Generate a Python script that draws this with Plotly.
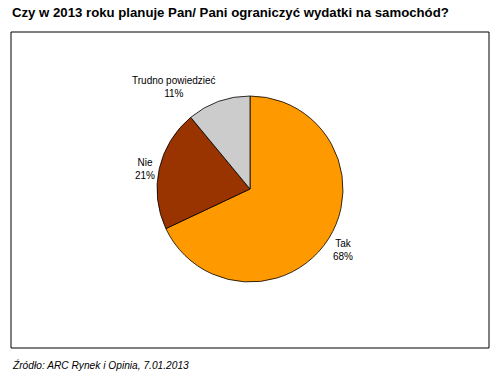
import math
import plotly.graph_objects as go

categories = ["Tak", "Nie", "Trudno powiedzieć"]
values = [68, 21, 11]
colors = ["#FF9900", "#993300", "#CCCCCC"]
title_text = "Czy w 2013 roku planuje Pan/ Pani ograniczyć wydatki na samochód?"
source_text = "Źródło: ARC Rynek i Opinia, 7.01.2013"

W, H = 497, 378
cx, cy, R = 250, 189, 93

fig = go.Figure(go.Pie(
    labels=categories, values=values, sort=False, direction="clockwise",
    rotation=0, marker=dict(colors=colors, line=dict(color="#000000", width=0.8)),
    textinfo="none", hoverinfo="label+percent", showlegend=False,
    domain=dict(x=[(cx - R) / W, (cx + R) / W], y=[1 - (cy + R) / H, 1 - (cy - R) / H]),
))

# outside labels positioned from the data's slice mid-angles
total = sum(values)
cum = 0
annotations = []
for cat, v in zip(categories, values):
    mid = (cum + v / 2) / total * 2 * math.pi
    cum += v
    s, c = math.sin(mid), math.cos(mid)
    px = cx + 1.03 * R * s
    py = cy - 1.0 * R * c - (3 if c < 0 else 0)
    xa = "left" if s > 0 else "right"
    if abs(c) < 0.3:
        ya = "middle"
    else:
        ya = "top" if c < 0 else "bottom"
    annotations.append(dict(
        x=px / W, y=1 - py / H, xref="paper", yref="paper",
        text=f"{cat}<br>{round(v / total * 100)}%", showarrow=False,
        xanchor=xa, yanchor=ya, align="center",
        font=dict(family="Liberation Sans, Arial, sans-serif", size=10, color="#000000"),
    ))

annotations.append(dict(
    x=10 / W, y=1 - 12 / H, xref="paper", yref="paper", text=f"<b>{title_text}</b>",
    showarrow=False, xanchor="left", yanchor="middle",
    font=dict(family="Liberation Sans, Arial, sans-serif", size=13.2, color="#000000"),
))
annotations.append(dict(
    x=10 / W, y=1 - 365 / H, xref="paper", yref="paper", text=f"<i>{source_text}</i>",
    showarrow=False, xanchor="left", yanchor="middle",
    font=dict(family="Liberation Sans, Arial, sans-serif", size=10.2, color="#000000"),
))

fig.update_layout(
    width=W, height=H, margin=dict(l=0, r=0, t=0, b=0),
    paper_bgcolor="#FFFFFF", plot_bgcolor="#FFFFFF",
    annotations=annotations,
    shapes=[dict(type="rect", xref="paper", yref="paper",
                 x0=11 / W, x1=489 / W, y0=1 - 348 / H, y1=1 - 32 / H,
                 line=dict(color="#000000", width=1), fillcolor="rgba(0,0,0,0)")],
)

fig.write_html("out.html", config=dict(displayModeBar=False),
               post_script="document.body.style.margin='0px';document.body.style.overflow='hidden';")
